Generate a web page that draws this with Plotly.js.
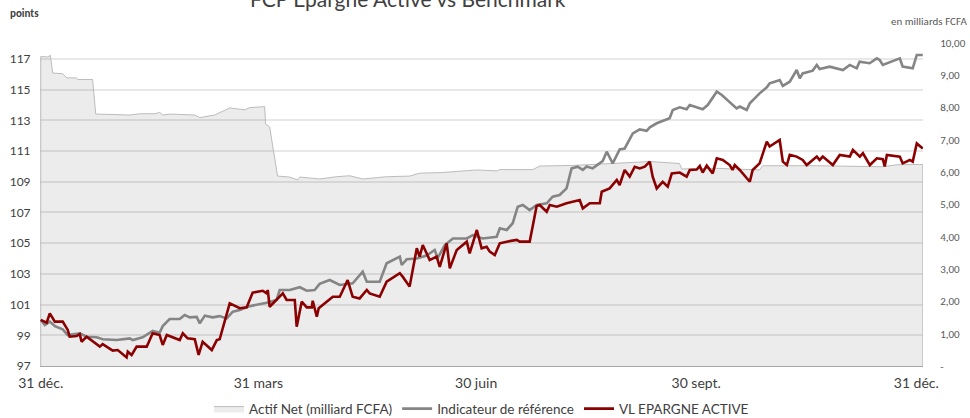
<!DOCTYPE html>
<html>
<head>
<meta charset="utf-8">
<script src="https://cdn.plot.ly/plotly-3.0.1.min.js"></script>
<style>html,body{margin:0;padding:0;background:#fff;}#chart{width:970px;height:418px;}</style>
</head>
<body>
<div id="chart"></div>
<script>
// ---- DATA (x = days since 31 déc.) ----
const tickDays = [0, 91, 182, 274, 366];
const tickLabels = ["31 déc.", "31 mars", "30 juin", "30 sept.", "31 déc."];

const actifDays = [0,3,4,5,9.2,10.9,15,15.5,21.7,23,37.2,41.4,47.7,49.7,51,54,64.4,66.5,72.7,79,85.3,87.4,93.6,94,95.7,99,104,107.4,108.3,116.6,123.7,129.2,134.6,144.6,154.2,158.4,168,182.2,190.6,191.9,205.7,208.6,222.4,239.1,254.6,267,268,282.6,300.5,301.8,324.4,352,357.8,367.4,368.7];
const actifNet = [9.58,9.57,9.62,9.07,9.05,8.92,8.92,8.87,8.87,7.80,7.77,7.81,7.81,7.85,7.77,7.80,7.77,7.69,7.77,7.99,7.93,8.00,8.03,7.49,7.40,5.88,5.85,5.76,5.85,5.79,5.86,5.89,5.79,5.86,5.88,5.97,5.99,6.07,6.04,6.08,6.08,6.19,6.21,6.27,6.33,6.27,6.10,6.12,6.07,6.20,6.20,6.17,6.23,6.24,6.24];

const benchDays = [0,1.7,3.8,5.9,9.2,11.3,16.3,19.2,23.4,25.9,31.8,37.2,38.5,42.6,46.8,49.7,51,53.9,58.1,60.2,62.3,65.2,66.5,68.6,71.9,74.8,77.7,80.3,83.2,87.4,94.5,98.6,99.9,104.1,108.3,111.2,114.5,116.6,120.8,125,130.4,134.6,136.3,141.7,144.6,150.1,150.9,153,157.2,161.3,164.7,165.9,168.9,172.3,178.1,180.6,184.7,190.6,191.9,194.8,197.3,199.4,201.5,204.4,207.3,211.5,214,216.9,219.8,221.9,224.4,226.6,228.2,230.7,234.9,236.6,239.1,242,244.1,247.5,250.4,253.3,254.6,257.5,262.9,264.2,267.1,270,271.3,276.7,278.8,282.6,284.7,290.9,292.2,295.1,296.4,300.5,303.5,304.7,306.8,308.9,310.2,313.1,316,317.3,318.5,322.7,324.4,325.6,329.8,335.3,338.2,341.1,342.3,346.5,349.5,350.7,352,357.8,359.1,360.3,364.5,366.2,368.7];
const indicateur = [100.0,99.67,99.89,99.6,99.39,99.02,99.13,98.91,98.87,98.74,98.69,98.8,98.69,98.87,99.28,99.17,99.6,100.06,100.06,100.32,100.17,100.2,99.78,100.28,100.17,100.25,100.1,100.54,100.65,100.9,101.12,101.3,101.95,101.95,102.13,101.9,101.95,102.35,102.6,102.28,102.39,103.14,102.49,102.49,103.69,104.12,103.58,103.95,104.0,104.2,104.56,104.02,104.88,105.31,105.31,105.53,105.31,105.42,105.97,105.86,106.3,107.38,107.49,107.16,107.49,107.6,108.03,108.14,108.57,109.87,109.98,109.77,110.0,109.87,110.35,110.96,110.2,111.11,111.17,112.15,112.41,112.32,112.55,112.81,113.14,113.68,113.85,113.72,114.0,113.72,114.0,114.87,114.65,113.78,113.9,113.68,114.11,114.76,115.15,115.41,115.52,115.63,115.24,115.52,116.28,115.74,116.06,116.24,116.61,116.35,116.5,116.28,116.61,116.39,116.82,116.72,117.04,116.93,116.61,116.93,117.04,116.5,116.39,117.26,117.26];

const vlDays = [0,2.5,3.8,5.9,9.2,11.3,12.1,15,16.3,17.1,19.2,22.6,24.7,25.9,30.1,32.2,35.9,36.4,38,40.1,44.3,46.8,49.7,51,52.7,58.1,59.4,61.4,64.4,66,67.7,71.5,73.6,74.8,79,83.2,86.1,88.6,92.8,94.5,94.9,95.7,101.2,102.8,106.2,107,109.1,111.2,113.3,113.7,115.4,116.2,122.1,125,128.3,130.4,133.3,136.3,137.5,141.7,144.6,150.1,151.3,154.2,157.2,158.4,159.7,162.6,165.5,166.8,169.7,171,173.9,178.1,179.3,182.3,184.3,186.4,187.7,189.8,191.9,194.8,199,200.2,204.4,207.3,208.6,211.5,212.8,215.7,219.8,225.3,226.6,229.5,233.7,234.5,237.8,240.8,242,244.1,246.2,248.3,250.4,252.5,254.6,255.8,257.5,260,262.1,263.8,267.1,270,271.3,274.2,275.5,276.7,278.4,280.9,282.6,285.1,288,289.2,290.1,292.2,296.4,297.6,300.5,303.5,304.7,308.9,310.2,311.9,313.1,316,318.5,320.2,324.4,325.6,326.9,331.1,334,338.2,339.5,342.4,343.7,346.6,349.5,352,352.8,353.7,359.1,360.3,363.3,364.5,366.2,368.7];
const vlEpargne = [100.0,99.82,100.43,99.89,99.89,99.35,98.91,98.95,99.08,98.58,98.91,98.52,98.26,98.43,98.0,98.04,97.56,97.93,97.72,98.26,98.26,99.13,99.02,98.37,99.02,98.69,99.13,98.8,98.74,97.72,98.58,98.04,98.69,98.74,101.08,100.76,100.82,101.78,101.9,101.73,101.95,100.86,101.73,101.3,101.3,99.56,101.19,100.82,100.82,101.25,100.21,100.76,101.51,101.51,102.6,101.51,101.4,101.95,101.73,101.51,102.49,103.04,102.82,102.17,104.67,104.12,104.88,103.9,104.12,103.46,104.99,103.36,104.56,105.1,104.34,105.86,104.67,104.77,104.45,104.23,104.99,105.1,105.21,105.1,105.1,107.42,107.49,107.05,107.49,107.38,107.6,107.81,107.27,107.6,107.6,108.35,108.57,109.12,108.79,109.77,109.34,109.98,109.87,109.98,110.31,109.33,108.57,109.0,108.68,109.55,109.6,109.33,109.77,109.8,110.03,109.6,110.05,109.55,110.53,110.42,110.09,109.77,110.09,109.77,109.0,109.77,110.2,111.61,111.3,111.72,110.31,110.09,110.75,110.64,110.42,110.09,110.64,110.42,110.64,110.09,110.75,110.64,111.08,110.64,110.86,110.09,110.53,110.47,110.0,110.75,110.64,110.2,110.42,110.31,111.5,111.17];

const leftTicks = [97, 99, 101, 103, 105, 107, 109, 111, 113, 115, 117];
const rightTicks = [0,1,2,3,4,5,6,7,8,9,10];
const rightLabels = ["-","1,00","2,00","3,00","4,00","5,00","6,00","7,00","8,00","9,00","10,00"];

// ---- CHART ----
const gothic = "Lato, 'Open Sans', sans-serif";
const areaX = [actifDays[0]].concat(actifDays, [actifDays[actifDays.length-1]]);
const areaY = [0].concat(actifNet, [0]);

const traces = [
  {x: areaX, y: areaY, yaxis: 'y', type: 'scatter', mode: 'lines', name: 'Actif Net (milliard FCFA)',
   fill: 'tozeroy', fillcolor: 'rgba(0,0,0,0.075)', line: {color: '#bcbcbc', width: 1}, hoverinfo: 'skip'},
  {x: benchDays, y: indicateur, yaxis: 'y2', type: 'scatter', mode: 'lines', name: 'Indicateur de référence',
   line: {color: '#858585', width: 2.6}},
  {x: vlDays, y: vlEpargne, yaxis: 'y2', type: 'scatter', mode: 'lines', name: 'VL EPARGNE ACTIVE',
   line: {color: '#8b0000', width: 2.6}}
];

const layout = {
  width: 970, height: 418,
  margin: {l: 40, r: 47, t: 43, b: 52, pad: 0, autoexpand: false},
  paper_bgcolor: '#ffffff', plot_bgcolor: 'rgba(0,0,0,0)',
  showlegend: true,
  legend: {orientation: 'h', x: 0.5, xanchor: 'center', yref: 'container', y: 0.022, yanchor: 'middle',
           font: {family: gothic, size: 13.5, color: '#404040'}, itemwidth: 30, traceorder: 'normal'},
  xaxis: {range: [-0.3, 368.8], tickmode: 'array', tickvals: tickDays, ticktext: tickLabels,
          showgrid: false, zeroline: false, showline: true, linecolor: '#a6a6a6', linewidth: 1,
          ticks: 'outside', ticklen: 4, tickcolor: 'rgba(0,0,0,0)',
          tickfont: {family: gothic, size: 14, color: '#404040'}},
  yaxis: {side: 'right', range: [0, 10], tickmode: 'array', tickvals: rightTicks, ticktext: rightLabels,
          showgrid: false, zeroline: false, showline: false,
          ticks: 'outside', ticklen: 14, tickcolor: 'rgba(0,0,0,0)',
          tickfont: {family: "Carlito, 'Liberation Sans', sans-serif", size: 11, color: '#595959'}},
  yaxis2: {overlaying: 'y', side: 'left', range: [97, 118.04], tickmode: 'array', tickvals: leftTicks,
           showgrid: true, gridcolor: '#e8e8e8', gridwidth: 2, zeroline: false, showline: false,
           ticks: 'outside', ticklen: 6, tickcolor: 'rgba(0,0,0,0)',
           tickfont: {family: gothic, size: 12, color: '#404040'}},
  annotations: [
    {text: 'FCP Epargne Active vs Benchmark', xref: 'paper', yref: 'paper', x: 0.417, y: 1,
     xanchor: 'center', yanchor: 'bottom', yshift: 30, showarrow: false,
     font: {family: gothic, size: 21, color: '#404040'}},
    {text: '<b>points</b>', xref: 'paper', yref: 'paper', x: -0.036, y: 1, xanchor: 'left', yanchor: 'bottom',
     yshift: 21, showarrow: false, font: {family: "Carlito, 'Liberation Sans', sans-serif", size: 11, color: '#404040'}},
    {text: 'en milliards FCFA', xref: 'paper', yref: 'paper', x: 0.961, y: 1, xanchor: 'left', yanchor: 'bottom',
     yshift: 13, showarrow: false, font: {family: "Carlito, 'Liberation Sans', sans-serif", size: 11, color: '#595959'}}
  ]
};

Plotly.newPlot('chart', traces, layout, {displayModeBar: false, staticPlot: true});
</script>
</body>
</html>
